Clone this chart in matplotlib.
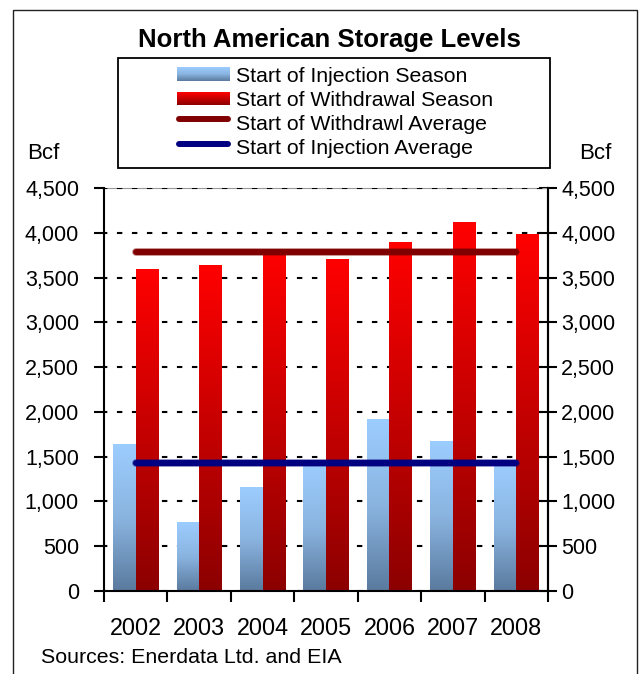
import numpy as np
import matplotlib.pyplot as plt
import matplotlib.patheffects as pe
from matplotlib.colors import LinearSegmentedColormap
from matplotlib.patches import Rectangle
from matplotlib.ticker import FuncFormatter

plt.rcParams['font.family'] = ['Liberation Sans', 'DejaVu Sans']

years = ['2002', '2003', '2004', '2005', '2006', '2007', '2008']
injection_start = [1640, 760, 1160, 1420, 1910, 1665, 1420]
withdrawal_start = [3585, 3630, 3790, 3705, 3895, 4120, 3985]
withdrawal_avg = 3785
injection_avg = 1425

blue_grad = LinearSegmentedColormap.from_list('blue_grad', ['#5a7a9e', '#8ab4e0', '#9ccdff'])
red_grad = LinearSegmentedColormap.from_list('red_grad', ['#8c0000', '#ff0000'])
grad = np.linspace(0, 1, 256).reshape(-1, 1)


def gradient_fill(ax, bars, cmap):
    # swap each flat bar for a vertical gradient image of the same size
    for b in bars:
        x0, y0 = b.get_xy()
        w, h = b.get_width(), b.get_height()
        b.set_facecolor('none')
        b.set_edgecolor('none')
        ax.imshow(grad, cmap=cmap, extent=[x0, x0 + w, y0, y0 + h],
                  origin='lower', aspect='auto', zorder=2, interpolation='bilinear')


fig = plt.figure(figsize=(6.41, 6.74), dpi=100)
ax = fig.add_axes([104 / 641, 83 / 674, 444 / 641, 403 / 674])

x = np.arange(len(years))
w = 0.355
b1 = ax.bar(x - w / 2, injection_start, w, zorder=2)
b2 = ax.bar(x + w / 2, withdrawal_start, w, zorder=2)
gradient_fill(ax, b1, blue_grad)
gradient_fill(ax, b2, red_grad)

halo = lambda c: [pe.Stroke(linewidth=5.6, foreground=c, alpha=0.45), pe.Normal()]
ax.plot([x[0], x[-1]], [withdrawal_avg] * 2, color='#800000', lw=4.3,
        solid_capstyle='round', zorder=4, path_effects=halo('#800000'))
ax.plot([x[0], x[-1]], [injection_avg] * 2, color='#000080', lw=4.3,
        solid_capstyle='round', zorder=4, path_effects=halo('#000080'))

ax.set_xlim(-0.5, len(years) - 0.5)
ax.set_ylim(0, 4500)
ax.set_yticks(range(0, 4501, 500))
fmt = FuncFormatter(lambda v, p: f'{v:,.0f}')
ax.yaxis.set_major_formatter(fmt)
ax.tick_params(axis='y', direction='out', length=7, width=1.5, labelsize=15.5, pad=11)

ax.set_xticks(x)
ax.set_xticklabels(years)
ax.set_xticks(np.arange(-0.5, len(years), 1), minor=True)
ax.tick_params(axis='x', which='major', length=0, pad=19, labelsize=16.8)
ax.tick_params(axis='x', which='minor', direction='out', length=8, width=1.5)

ax.yaxis.grid(True, color='black', linestyle=(1, (2.6, 4.6)), linewidth=1.5)
ax.set_axisbelow(True)
for s in ['left', 'right', 'bottom']:
    ax.spines[s].set_linewidth(1.5)
ax.spines['top'].set_color('#999999')
ax.spines['top'].set_linewidth(0.8)
ax.spines['top'].set_zorder(0.4)

sec = ax.secondary_yaxis('right')
sec.set_yticks(range(0, 4501, 500))
sec.yaxis.set_major_formatter(fmt)
sec.tick_params(direction='inout', length=13, width=1.5, labelsize=15.5, pad=3)
sec.spines['right'].set_linewidth(1.5)

# title, legend box and notes, laid out in pixel units
ov = fig.add_axes([0, 0, 1, 1], zorder=5)
ov.patch.set_alpha(0)
ov.axis('off')

ov.add_patch(Rectangle((13, 10), 624, 700, fill=False, lw=1.0, edgecolor='#222222'))
ov.text(329, 47, 'North American Storage Levels', fontsize=18.5, fontweight='bold',
        ha='center', va='baseline')

ov.add_patch(Rectangle((118, 58), 432, 110, fill=False, lw=1.3, edgecolor='black'))
ov.imshow(grad, cmap=blue_grad, extent=[177, 230, 81, 67], origin='lower', aspect='auto')
ov.imshow(grad, cmap=red_grad, extent=[177, 230, 105, 92], origin='lower', aspect='auto')
ov.plot([179, 228], [119, 119], color='#800000', lw=4.3, solid_capstyle='round')
ov.plot([179, 228], [144, 144], color='#000080', lw=4.3, solid_capstyle='round')
labels = ['Start of Injection Season', 'Start of Withdrawal Season',
          'Start of Withdrawl Average', 'Start of Injection Average']
for lab, yb in zip(labels, [81.5, 105.5, 130, 154.5]):
    ov.text(236, yb, lab, fontsize=15.3, va='baseline')

ov.text(27, 159, 'Bcf', fontsize=16, va='baseline')
ov.text(579, 159, 'Bcf', fontsize=16, va='baseline')
ov.text(41, 663, 'Sources: Enerdata Ltd. and EIA', fontsize=15.4, va='baseline')

ov.set_xlim(0, 641)
ov.set_ylim(674, 0)

fig.savefig('out.png', dpi=100)
